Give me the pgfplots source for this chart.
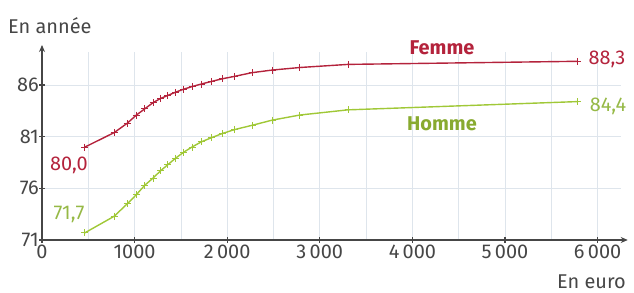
\documentclass[border=0pt]{standalone}
\usepackage{fontspec}
\setmainfont{Fira Sans}
\usepackage{pgfplots}
\pgfplotsset{compat=1.18}
\usetikzlibrary{arrows.meta}
\definecolor{fred}{RGB}{180,35,60}
\definecolor{hgreen}{RGB}{160,200,55}
\definecolor{hlab}{RGB}{150,185,70}
\definecolor{axisgray}{RGB}{70,70,70}
\definecolor{gridc}{RGB}{222,229,236}
\begin{document}
\begin{tikzpicture}
\path[use as bounding box] (0,0) rectangle (634bp,293bp);
\begin{axis}[
  at={(42bp,53bp)}, anchor=south west,
  scale only axis, width=578.75bp, height=188bp,
  xmin=0, xmax=6250, ymin=71, ymax=89.2,
  axis lines=left,
  axis line style={draw=axisgray, line width=1.6bp, -{Stealth[length=7bp,width=6bp]}, shorten >=-7bp},
  xtick={0,1000,2000,3000,4000,5000,6000},
  xticklabels={0,1000,2\,000,3\,000,4\,000,5\,000,6\,000},
  minor xtick={500,1500,2500,3500,4500,5500},
  ytick={71,76,81,86},
  yticklabels={71,76,81,86},
  grid=both,
  grid style={draw=gridc, line width=0.8bp},
  minor grid style={draw=gridc, line width=0.8bp},
  tick align=center,
  major tick length=6bp,
  minor tick length=0pt,
  tick style={draw=axisgray, line width=1.2bp},
  every tick label/.style={font=\fontsize{20}{21}\selectfont, text=axisgray},
  xticklabel style={anchor=north, yshift=0bp, inner sep=2bp},
  yticklabel style={anchor=east, xshift=2bp, inner sep=2bp},
  clip=false,
]
\addplot[fred, line width=1.4bp, mark=+, mark size=3.5bp, mark options={line width=1bp, rotate=0}] coordinates {
(464,80.0) (780,81.4) (920,82.3) (1020,83.1) (1110,83.7) (1200,84.3)
(1280,84.7) (1360,85.0) (1440,85.3) (1530,85.6) (1620,85.85) (1720,86.1)
(1830,86.35) (1944,86.6) (2084,86.85) (2268,87.2) (2484,87.45) (2786,87.7)
(3305,88.0) (5788,88.3)};
\addplot[hgreen, line width=1.4bp, mark=+, mark size=3.5bp, mark options={line width=1bp}] coordinates {
(464,71.7) (780,73.3) (920,74.5) (1020,75.4) (1110,76.3) (1200,77.0)
(1280,77.7) (1360,78.3) (1440,78.9) (1530,79.5) (1620,80.0) (1720,80.5)
(1830,80.9) (1944,81.3) (2084,81.7) (2268,82.1) (2484,82.6) (2786,83.1)
(3305,83.6) (5788,84.4)};
\end{axis}
\begin{scope}[every node/.style={font=\fontsize{20}{21}\selectfont, inner sep=0pt}]
\node[anchor=base west, text=axisgray] at (8bp,259bp) {En année};
\node[anchor=base east, text=axisgray] at (626bp,5bp) {En euro};
\node[text=fred, font=\fontsize{20}{21}\selectfont\bfseries] at (442bp,245.5bp) {Femme};
\node[text=hgreen!85!black, font=\fontsize{20}{21}\selectfont\bfseries] at (442bp,169.5bp) {Homme};
\node[text=fred] at (607bp,233.5bp) {88,3};
\node[text=hlab] at (608bp,187bp) {84,4};
\node[text=fred] at (69bp,128bp) {80,0};
\node[text=hlab] at (69bp,79bp) {71,7};
\end{scope}
\end{tikzpicture}
\end{document}
